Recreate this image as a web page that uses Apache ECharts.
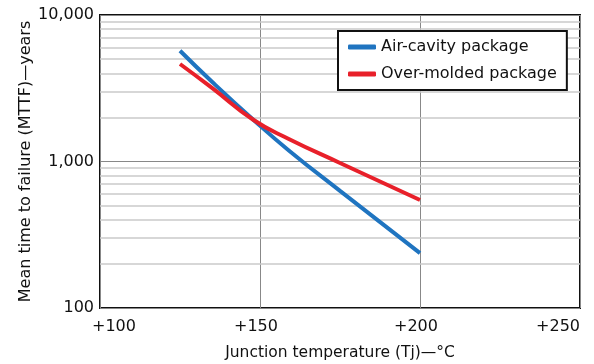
<!DOCTYPE html>
<html>
<head>
<meta charset="utf-8">
<script src="https://cdn.jsdelivr.net/npm/echarts@6/dist/echarts.min.js"></script>
<style>
  html, body { margin: 0; padding: 0; background: #fff; }
  #chart { width: 594px; height: 364px; }
</style>
</head>
<body>
<div id="chart"></div>
<script>
// values: [junction temperature °C, MTTF years]
const airCavity = [[125, 5700], [135, 3500], [148, 1920], [159, 1190], [175, 630], [200, 237]];
const overMolded = [[125, 4630], [135, 3180], [148, 1920], [159, 1425], [175, 977], [200, 546]];
const xTicks = [100, 150, 200, 250];
const yTicks = [100, 1000, 10000];
const minorY = [200, 300, 400, 500, 600, 700, 800, 900, 2000, 3000, 4000, 5000, 6000, 7000, 8000, 9000];

const font = 'DejaVu Sans';
const chart = echarts.init(document.getElementById('chart'));

// first x label sits right of its tick, middle ones a touch left
function xLabel(v) {
    if (v === xTicks[0]) return '{first|+' + v + '}';
    if (v === xTicks[xTicks.length - 1]) return '+' + v;
    return '{mid|+' + v + '}';
}

chart.setOption({
    animation: false,
    textStyle: { fontFamily: font, color: '#111' },
    grid: {
        left: 100, right: 14, top: 15, bottom: 56,
        outerBoundsMode: 'none', containLabel: false,
        show: true, borderColor: '#111', borderWidth: 2
    },
    legend: {
        orient: 'vertical',
        left: 338, top: 31, z: 20,
        data: ['Air-cavity package', 'Over-molded package'],
        itemWidth: 28, itemHeight: 5, itemGap: 11,
        icon: 'roundRect',
        padding: [8, 10, 8, 10],
        backgroundColor: '#fff',
        borderColor: '#111', borderWidth: 2,
        textStyle: { fontFamily: font, fontSize: 16, color: '#111' }
    },
    xAxis: {
        type: 'value',
        min: xTicks[0], max: xTicks[xTicks.length - 1], interval: 50,
        name: 'Junction temperature (Tj)\u2014\u00b0C',
        nameLocation: 'middle', nameGap: 37,
        nameTextStyle: { fontSize: 15.5, color: '#111' },
        axisLine: { show: false },
        axisTick: { show: false },
        axisLabel: {
            fontSize: 16, color: '#111', margin: 11,
            alignMaxLabel: 'right',
            formatter: xLabel,
            rich: {
                first: { fontSize: 16, fontFamily: font, color: '#111', padding: [0, 0, 0, 28] },
                mid: { fontSize: 16, fontFamily: font, color: '#111', padding: [0, 8, 0, 0] }
            }
        },
        splitLine: { show: true, lineStyle: { color: '#888', width: 1 } }
    },
    yAxis: {
        type: 'log', logBase: 10,
        min: yTicks[0], max: yTicks[yTicks.length - 1],
        name: 'Mean time to failure (MTTF)\u2014years',
        nameLocation: 'middle', nameGap: 66, nameMoveOverlap: false,
        nameTextStyle: { fontSize: 16, color: '#111' },
        axisLine: { show: false },
        axisTick: { show: false },
        axisLabel: { fontSize: 16, color: '#111', margin: 6, formatter: v => v.toLocaleString('en-US') },
        splitLine: { show: true, lineStyle: { color: '#888', width: 1 } }
    },
    series: [
        {
            name: 'minor', type: 'line', data: [], silent: true, z: 1,
            markLine: {
                silent: true, symbol: 'none', label: { show: false }, z: 1,
                lineStyle: { color: '#cacaca', width: 1.5, type: 'solid' },
                data: minorY.map(v => ({ yAxis: v }))
            }
        },
        {
            name: 'Air-cavity package', type: 'line', data: airCavity,
            smooth: 0.5, showSymbol: false, z: 3,
            lineStyle: { color: '#1f74c0', width: 4 },
            itemStyle: { color: '#1f74c0' }
        },
        {
            name: 'Over-molded package', type: 'line', data: overMolded,
            smooth: 0.5, showSymbol: false, z: 4,
            lineStyle: { color: '#e8202a', width: 4 },
            itemStyle: { color: '#e8202a' }
        }
    ]
});
</script>
</body>
</html>
